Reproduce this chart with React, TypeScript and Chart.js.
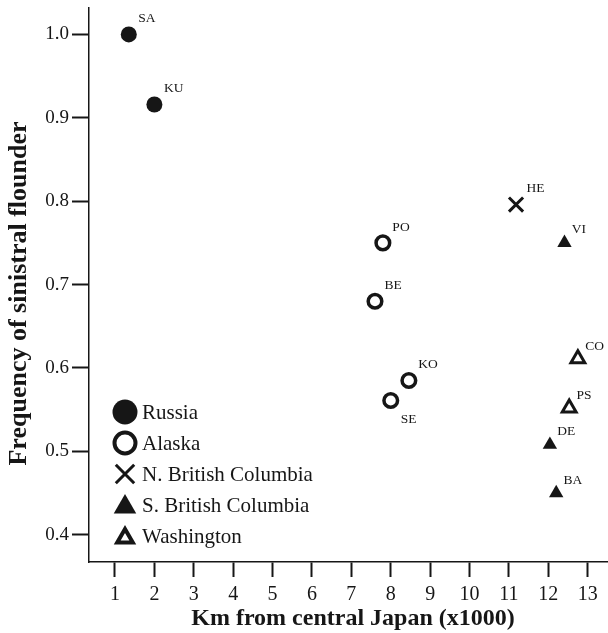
import React, { useEffect, useRef } from 'react';
import { Chart, registerables } from 'chart.js';
import { drawPoint } from 'chart.js/helpers';

Chart.register(...registerables);

// ---- data ----
const SITE_CODES = ['SA', 'KU', 'PO', 'BE', 'KO', 'SE', 'HE', 'VI', 'CO', 'PS', 'DE', 'BA'];
const DISTANCE_KKM = [1.35, 2.0, 7.8, 7.6, 8.46, 8.0, 11.18, 12.41, 12.75, 12.53, 12.04, 12.2];
const SINISTRAL_FREQ = [1.0, 0.916, 0.75, 0.68, 0.585, 0.561, 0.796, 0.75, 0.611, 0.552, 0.508, 0.45];
const SITE_REGION = [
  'Russia', 'Russia',
  'Alaska', 'Alaska', 'Alaska', 'Alaska',
  'N. British Columbia',
  'S. British Columbia',
  'Washington', 'Washington',
  'S. British Columbia', 'S. British Columbia',
];
const REGIONS = ['Russia', 'Alaska', 'N. British Columbia', 'S. British Columbia', 'Washington'];
const X_TICKS = [1, 2, 3, 4, 5, 6, 7, 8, 9, 10, 11, 12, 13];
const Y_TICKS = [0.4, 0.5, 0.6, 0.7, 0.8, 0.9, 1.0];
const X_TITLE = 'Km from central Japan (x1000)';
const Y_TITLE = 'Frequency of sinistral flounder';
const LABEL_BELOW = ['SE'];

// ---- styling ----
const INK = '#161616';
const FONT = '"Liberation Serif", "Times New Roman", serif';

type Marker = { style: any; r: number; bw: number; fill: string; lr: number; lbw: number; dx: number; dy: number };
const MARKERS: Marker[] = [
  { style: 'circle', r: 8, bw: 0, fill: INK, lr: 12.5, lbw: 0, dx: 9.5, dy: -12 },
  { style: 'circle', r: 6.8, bw: 3.5, fill: '#ffffff', lr: 10.5, lbw: 4, dx: 9.5, dy: -12 },
  { style: 'crossRot', r: 10, bw: 3, fill: INK, lr: 13, lbw: 3, dx: 10.5, dy: -13 },
  { style: 'triangle', r: 8.3, bw: 0, fill: INK, lr: 13, lbw: 0, dx: 7.3, dy: -9.5 },
  { style: 'triangle', r: 8, bw: 3, fill: '#ffffff', lr: 9, lbw: 4, dx: 7.3, dy: -9 },
];

const overlay = {
  id: 'overlay',
  afterDatasetsDraw(chart: any) {
    const ctx = chart.ctx as CanvasRenderingContext2D;
    const area = chart.chartArea;
    ctx.save();
    // site labels
    ctx.fillStyle = INK;
    ctx.font = `13.5px ${FONT}`;
    ctx.textAlign = 'left';
    ctx.textBaseline = 'alphabetic';
    chart.data.datasets.forEach((ds: any, di: number) => {
      const meta = chart.getDatasetMeta(di);
      const mk = MARKERS[di];
      meta.data.forEach((el: any, i: number) => {
        const code = ds.data[i].code;
        const below = LABEL_BELOW.includes(code);
        ctx.fillText(code, el.x + (below ? 10 : mk.dx), el.y + (below ? 23 : mk.dy));
      });
    });

    // legend (inside plot, lower left)
    const lx = area.left + 36;
    const tx = area.left + 53;
    const rowTop = 412;
    const rowGap = 31;
    REGIONS.forEach((name, ri) => {
      const mk = MARKERS[ri];
      const y = rowTop + ri * rowGap + (mk.style === 'triangle' ? 2 : 0);
      ctx.fillStyle = mk.fill;
      ctx.strokeStyle = INK;
      ctx.lineWidth = mk.lbw;
      ctx.lineJoin = 'miter';
      drawPoint(ctx, { pointStyle: mk.style, radius: mk.lr, borderWidth: mk.lbw, rotation: 0 } as any, lx, y);
      ctx.fillStyle = INK;
      ctx.font = `21px ${FONT}`;
      ctx.textBaseline = 'alphabetic';
      ctx.fillText(name, tx, rowTop + ri * rowGap + 7);
    });

    // axis titles
    ctx.fillStyle = INK;
    ctx.textAlign = 'center';
    ctx.textBaseline = 'alphabetic';
    ctx.font = `bold 24px ${FONT}`;
    ctx.fillText(X_TITLE, 353, 625);
    ctx.font = `bold 26px ${FONT}`;
    ctx.translate(26, 293.5);
    ctx.rotate(-Math.PI / 2);
    ctx.fillText(Y_TITLE, 0, 0);
    ctx.restore();
  },
};

export default function App() {
  const ref = useRef<HTMLCanvasElement>(null);
  useEffect(() => {
    if (!ref.current) return;
    const datasets = REGIONS.map((name, ri) => {
      const mk = MARKERS[ri];
      const data = SITE_CODES.map((code, i) => ({ x: DISTANCE_KKM[i], y: SINISTRAL_FREQ[i], code, region: SITE_REGION[i] }))
        .filter((p) => p.region === name);
      return {
        label: name,
        data,
        showLine: false,
        pointStyle: mk.style,
        pointRadius: mk.r,
        pointBorderWidth: mk.bw,
        pointBackgroundColor: mk.fill,
        pointBorderColor: INK,
      };
    });
    const chart = new Chart(ref.current, {
      type: 'scatter',
      data: { datasets } as any,
      options: {
        responsive: false,
        devicePixelRatio: 1,
        animation: false,
        events: [],
        layout: { autoPadding: false, padding: { top: 8, left: 0, right: 0, bottom: 0 } },
        plugins: { legend: { display: false }, tooltip: { enabled: false } },
        scales: {
          x: {
            type: 'linear',
            position: 'bottom',
            min: 0.34,
            max: 13.515,
            afterBuildTicks: (s: any) => { s.ticks = X_TICKS.map((v) => ({ value: v })); },
            afterFit: (s: any) => { s.height = 71; s.paddingLeft = 0; s.paddingRight = 0; },
            ticks: {
              font: { family: FONT, size: 20 },
              color: INK,
              padding: 6,
              autoSkip: false,
              maxRotation: 0,
              callback: (v: any) => String(v),
            },
            grid: { drawOnChartArea: false, drawTicks: true, tickLength: 15, tickWidth: 2, tickColor: INK },
            border: { display: true, color: INK, width: 1.5 },
          },
          y: {
            type: 'linear',
            min: 0.3673,
            max: 1.0317,
            afterBuildTicks: (s: any) => { s.ticks = Y_TICKS.map((v) => ({ value: v })); },
            afterFit: (s: any) => { s.width = 89; s.paddingTop = 0; s.paddingBottom = 0; },
            ticks: {
              font: { family: FONT, size: 19 },
              color: INK,
              padding: 3,
              autoSkip: false,
              callback: (v: any) => Number(v).toFixed(1),
            },
            grid: { drawOnChartArea: false, drawTicks: true, tickLength: 17, tickWidth: 2, tickColor: INK },
            border: { display: true, color: INK, width: 1.5 },
          },
        },
      } as any,
      plugins: [overlay],
    });
    return () => chart.destroy();
  }, []);
  return (
    <div style={{ position: 'absolute', left: 0, top: 0, width: 608, height: 633, background: '#fff' }}>
      <canvas ref={ref} width={608} height={633} style={{ display: 'block' }} />
    </div>
  );
}
